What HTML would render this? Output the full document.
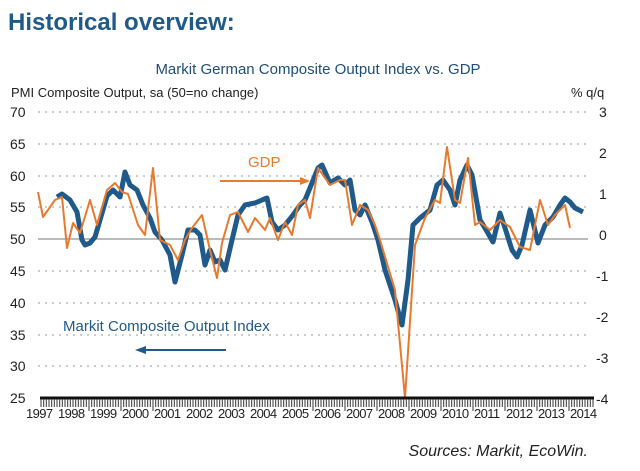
<!DOCTYPE html>
<html><head><meta charset="utf-8"><style>
body{margin:0;background:#fff;width:640px;height:466px;overflow:hidden;font-family:"Liberation Sans",sans-serif}
</style></head><body>
<svg width="640" height="466" xmlns="http://www.w3.org/2000/svg" font-family="Liberation Sans, sans-serif">
<text x="8" y="30" font-size="24" font-weight="bold" fill="#1f5a8a">Historical overview:</text>
<text x="318" y="74" font-size="15" fill="#1f4e79" text-anchor="middle">Markit German Composite Output Index vs. GDP</text>
<text x="11" y="97" font-size="13" fill="#222">PMI Composite Output, sa (50=no change)</text>
<text x="571" y="97" font-size="13" fill="#222">% q/q</text>
<g stroke="#999" stroke-dasharray="2,5" stroke-width="1">
<line x1="38" x2="588" y1="112" y2="112"/><line x1="38" x2="588" y1="144" y2="144"/><line x1="38" x2="588" y1="176" y2="176"/><line x1="38" x2="588" y1="207" y2="207"/><line x1="38" x2="588" y1="271" y2="271"/><line x1="38" x2="588" y1="303" y2="303"/><line x1="38" x2="588" y1="335" y2="335"/><line x1="38" x2="588" y1="366" y2="366"/>
</g>
<line x1="38" x2="588" y1="239" y2="239" stroke="#777" stroke-width="1"/>
<g font-size="14" fill="#222">
<text x="10" y="117">70</text><text x="10" y="149">65</text><text x="10" y="181">60</text><text x="10" y="212">55</text><text x="10" y="244">50</text><text x="10" y="276">45</text><text x="10" y="308">40</text><text x="10" y="340">35</text><text x="10" y="371">30</text><text x="10" y="403">25</text>
<text x="599" y="117">3</text><text x="599" y="158">2</text><text x="599" y="199">1</text><text x="599" y="240">0</text><text x="596" y="281">-1</text><text x="596" y="322">-2</text><text x="596" y="363">-3</text><text x="596" y="404">-4</text>
</g>
<path d="M57,197 L62,194 L70,200 L77,212 L82,240 L85,245 L90,243 L95,237 L100,220 L107,196 L113,190 L120,197 L125,172 L130,185 L137,190 L143,205 L150,218 L155,232 L162,240 L170,255 L175,282 L182,255 L188,230 L195,230 L200,235 L205,265 L210,250 L215,262 L220,260 L225,270 L232,240 L238,215 L245,205 L255,203 L262,200 L267,198 L272,222 L278,230 L285,225 L293,215 L300,205 L305,200 L312,183 L318,168 L322,165 L330,183 L338,178 L345,185 L350,180 L355,210 L360,215 L365,205 L372,222 L378,240 L385,270 L395,300 L402,325 L408,280 L413,225 L420,218 L430,210 L437,185 L443,180 L450,190 L455,205 L460,180 L467,165 L472,175 L480,220 L485,228 L493,242 L500,213 L505,228 L512,250 L517,257 L522,245 L530,210 L538,243 L545,225 L553,217 L560,205 L565,198 L570,202 L575,208 L583,212" fill="none" stroke="#1f5a8a" stroke-width="5" stroke-linejoin="round"/>
<path d="M38,192 L43,217 L55,200 L62,197 L67,248 L73,223 L80,233 L90,200 L97,225 L107,190 L115,183 L122,192 L128,194 L138,225 L145,235 L153,168 L160,240 L170,245 L178,260 L185,240 L192,228 L202,215 L210,250 L217,278 L222,243 L230,215 L238,212 L248,232 L255,218 L265,230 L270,218 L278,240 L285,222 L292,235 L298,205 L305,200 L310,218 L318,168 L330,185 L340,180 L345,180 L352,225 L360,205 L368,210 L375,225 L380,240 L395,290 L405,398 L415,245 L425,218 L435,200 L440,203 L447,147 L455,200 L460,203 L468,158 L475,225 L480,222 L490,230 L500,220 L510,227 L520,247 L530,250 L540,200 L548,225 L555,215 L565,205 L570,228" fill="none" stroke="#e87a2e" stroke-width="2" stroke-linejoin="round"/>
<text x="248" y="167" font-size="15" fill="#e87a2e">GDP</text>
<line x1="220" x2="305" y1="181" y2="181" stroke="#e87a2e" stroke-width="2"/><path d="M310,181 L300,177 L300,185Z" fill="#e87a2e"/>
<text x="63" y="331" font-size="15" fill="#1f5a8a">Markit Composite Output Index</text>
<line x1="140" x2="226" y1="350" y2="350" stroke="#1f5a8a" stroke-width="2"/><path d="M135,350 L146,346 L146,354Z" fill="#1f5a8a"/>
<line x1="40" x2="594" y1="398" y2="398" stroke="#111" stroke-width="3"/>
<g stroke="#333" stroke-width="1" id="ticks"></g>
<g font-size="13" fill="#222" letter-spacing="-0.6">
<text x="26" y="418">1997</text><text x="58" y="418">1998</text><text x="90" y="418">1999</text><text x="122" y="418">2000</text><text x="154" y="418">2001</text><text x="186" y="418">2002</text><text x="218" y="418">2003</text><text x="250" y="418">2004</text><text x="282" y="418">2005</text><text x="314" y="418">2006</text><text x="346" y="418">2007</text><text x="378" y="418">2008</text><text x="410" y="418">2009</text><text x="442" y="418">2010</text><text x="474" y="418">2011</text><text x="506" y="418">2012</text><text x="538" y="418">2013</text><text x="570" y="418">2014</text>
</g>
<text x="588" y="456" font-size="16" font-style="italic" fill="#222" text-anchor="end">Sources: Markit, EcoWin.</text>
</svg>
<script>
var g=document.getElementById('ticks'),s='';
for(var x=41;x<=594;x+=32/12){var yr=Math.abs(((x-25)%32))<1.4;s+='<line x1="'+x.toFixed(1)+'" x2="'+x.toFixed(1)+'" y1="399" y2="'+(yr?411:407)+'"/>';}
g.innerHTML=s;
</script>
</body></html>
